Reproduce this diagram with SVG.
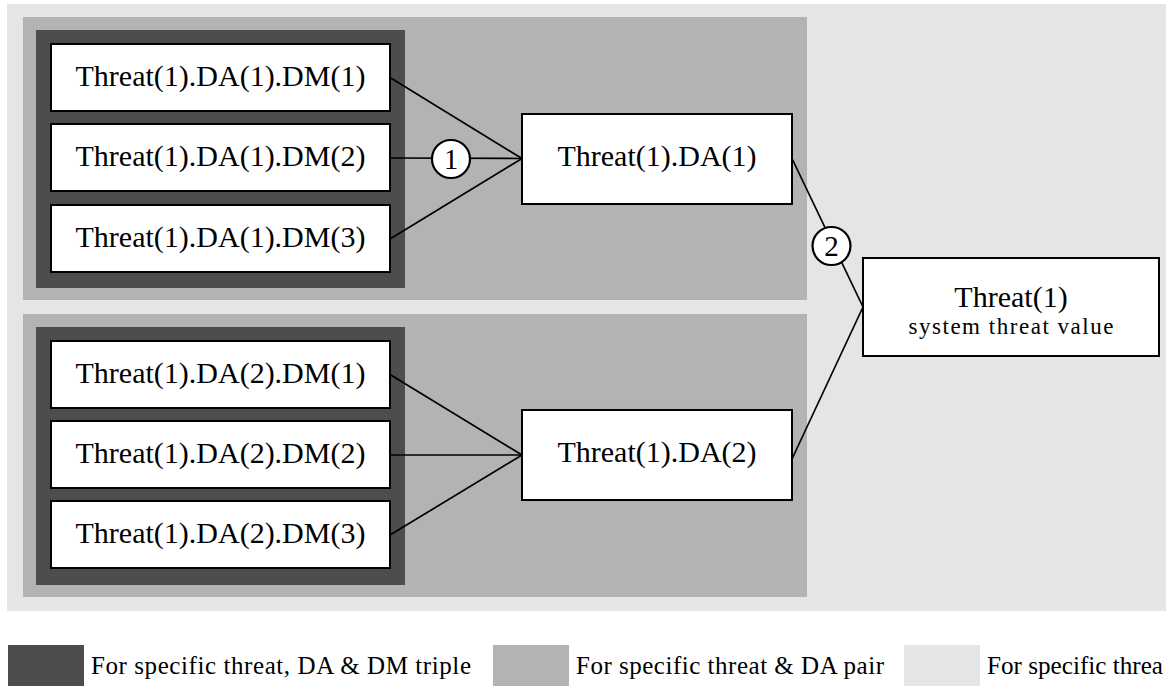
<svg xmlns="http://www.w3.org/2000/svg" width="1166" height="686" viewBox="0 0 1166 686">
<style>
.l1{fill:#e5e5e5}
.l2{fill:#b3b3b3}
.l3{fill:#4d4d4d}
.box{fill:#fff;stroke:#000;stroke-width:2}
.t{font-family:"Liberation Serif","Times New Roman",serif;font-size:30px;fill:#000;text-anchor:middle}
.s{font-family:"Liberation Serif","Times New Roman",serif;font-size:23px;fill:#000;text-anchor:middle}
.lg{font-family:"Liberation Serif","Times New Roman",serif;font-size:25px;fill:#000}
.edge{stroke:#000;stroke-width:1.7;fill:none}
.circ{fill:#fff;stroke:#000;stroke-width:2.2}
.n{font-family:"Liberation Serif","Times New Roman",serif;font-size:29px;fill:#000;text-anchor:middle}
</style>
<g id="backgrounds">
<rect class="l1" x="7" y="4" width="1159" height="607"/>
<rect class="l2" x="23" y="17" width="784" height="283"/>
<rect class="l2" x="23" y="314" width="784" height="283"/>
<rect class="l3" x="36" y="30" width="369" height="258"/>
<rect class="l3" x="36" y="327" width="369" height="258"/>
</g>
<g id="connectors">
<line class="edge" x1="390" y1="77.5" x2="522" y2="158.5"/>
<line class="edge" x1="390" y1="158" x2="522" y2="158.5"/>
<line class="edge" x1="390" y1="239" x2="522" y2="158.5"/>
<line class="edge" x1="390" y1="374.5" x2="522" y2="455"/>
<line class="edge" x1="390" y1="455" x2="522" y2="455"/>
<line class="edge" x1="390" y1="535" x2="522" y2="455"/>
<line class="edge" x1="792" y1="158.5" x2="863" y2="307"/>
<line class="edge" x1="792" y1="459" x2="863" y2="307"/>
</g>
<g id="n-t1da1dm1"><rect class="box" x="51" y="44" width="339" height="67"/><text class="t" x="220.5" y="85.5">Threat(1).DA(1).DM(1)</text></g>
<g id="n-t1da1dm2"><rect class="box" x="51" y="124" width="339" height="67"/><text class="t" x="220.5" y="165.5">Threat(1).DA(1).DM(2)</text></g>
<g id="n-t1da1dm3"><rect class="box" x="51" y="205" width="339" height="67"/><text class="t" x="220.5" y="246.5">Threat(1).DA(1).DM(3)</text></g>
<g id="n-t1da2dm1"><rect class="box" x="51" y="341" width="339" height="67"/><text class="t" x="220.5" y="382.5">Threat(1).DA(2).DM(1)</text></g>
<g id="n-t1da2dm2"><rect class="box" x="51" y="421" width="339" height="67"/><text class="t" x="220.5" y="462.5">Threat(1).DA(2).DM(2)</text></g>
<g id="n-t1da2dm3"><rect class="box" x="51" y="501" width="339" height="67"/><text class="t" x="220.5" y="542.5">Threat(1).DA(2).DM(3)</text></g>
<g id="n-t1da1"><rect class="box" x="522" y="114" width="270" height="90"/><text class="t" x="657" y="166">Threat(1).DA(1)</text></g>
<g id="n-t1da2"><rect class="box" x="522" y="410" width="270" height="90"/><text class="t" x="657" y="462">Threat(1).DA(2)</text></g>
<g id="n-t1"><rect class="box" x="863" y="258" width="296" height="98"/><text class="t" x="1011" y="307">Threat(1)</text><text class="s" x="1011" y="334" textLength="205" lengthAdjust="spacing">system threat value</text></g>
<g id="c1"><circle class="circ" cx="451" cy="159" r="19"/><text class="n" x="451" y="169">1</text></g>
<g id="c2"><circle class="circ" cx="831.5" cy="246" r="19"/><text class="n" x="831.5" y="256">2</text></g>
<g id="legend">
<rect class="l3" x="8" y="645" width="76" height="45"/>
<text class="lg" x="91" y="674" textLength="380" lengthAdjust="spacing">For specific threat, DA &amp; DM triple</text>
<rect class="l2" x="493" y="645" width="76" height="45"/>
<text class="lg" x="576" y="674" textLength="308" lengthAdjust="spacing">For specific threat &amp; DA pair</text>
<rect class="l1" x="904" y="645" width="76" height="45"/>
<text class="lg" x="987" y="674" textLength="176" lengthAdjust="spacingAndGlyphs">For specific threa</text>
</g>
</svg>
